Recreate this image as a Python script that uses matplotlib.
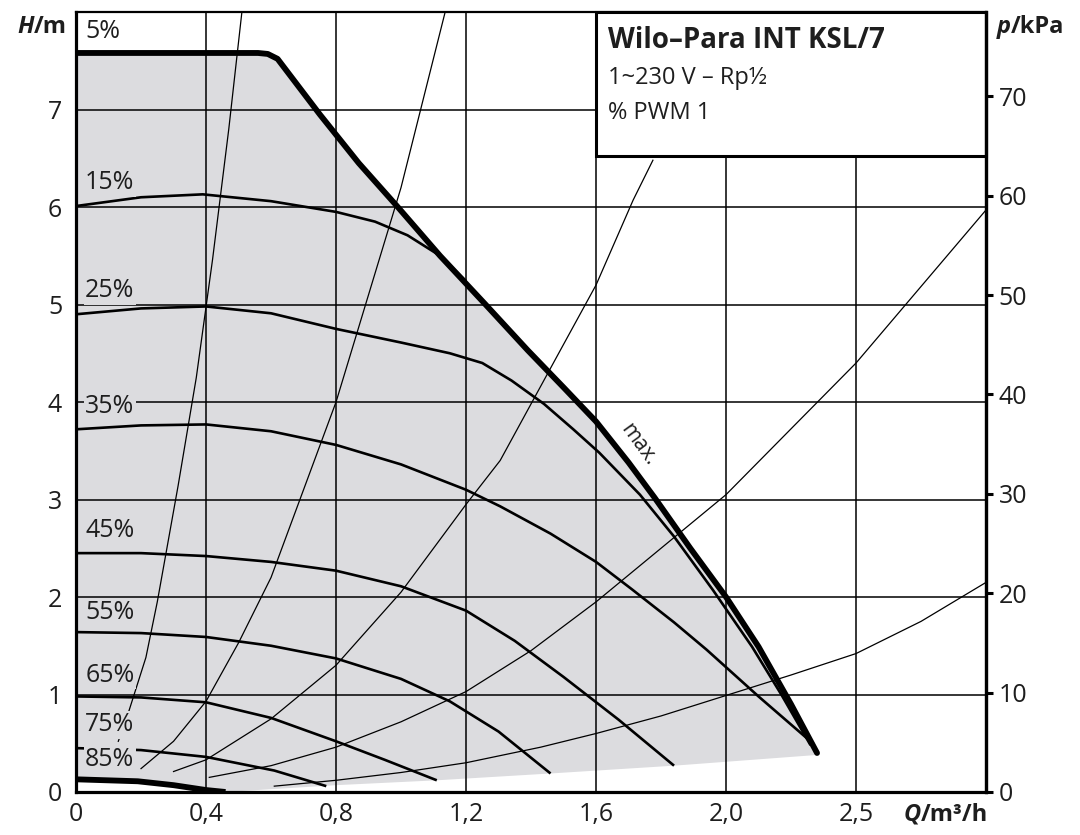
import matplotlib
matplotlib.use('Agg')
import matplotlib.pyplot as plt
from matplotlib.patches import Polygon, Rectangle
from matplotlib.offsetbox import TextArea, HPacker, AnnotationBbox

plt.rcParams['font.family'] = ['Open Sans', 'DejaVu Sans']

# Pump curves: flow Q [m3/h], head H [m]
max_q = [0.0, 0.56, 0.59, 0.62, 0.75, 0.87, 0.99, 1.12, 1.26, 1.39, 1.5, 1.6, 1.7, 1.78, 1.89, 2.0, 2.1, 2.2, 2.28]
max_h = [7.58, 7.58, 7.57, 7.52, 6.95, 6.45, 6.0, 5.5, 5.0, 4.53, 4.15, 3.8, 3.38, 3.02, 2.5, 2.0, 1.49, 0.9, 0.4]

p15_q = [0.0, 0.2, 0.39, 0.6, 0.8, 0.92, 1.02, 1.12, 1.2]
p15_h = [6.01, 6.10, 6.13, 6.06, 5.95, 5.85, 5.71, 5.50, 5.24]

p25_q = [0.0, 0.2, 0.4, 0.6, 0.8, 1.0, 1.15, 1.25, 1.34, 1.44, 1.53, 1.61, 1.735, 1.84, 1.96, 2.08, 2.17, 2.26]
p25_h = [4.90, 4.96, 4.98, 4.91, 4.75, 4.61, 4.50, 4.40, 4.22, 3.98, 3.72, 3.48, 3.05, 2.62, 2.07, 1.49, 1.00, 0.48]

p35_q = [0.0, 0.2, 0.4, 0.6, 0.8, 1.0, 1.2, 1.305, 1.46, 1.6, 1.71, 1.84, 1.94, 2.1, 2.27]
p35_h = [3.72, 3.76, 3.77, 3.70, 3.56, 3.36, 3.10, 2.93, 2.65, 2.36, 2.08, 1.74, 1.46, 0.98, 0.49]

p45_q = [0.0, 0.2, 0.4, 0.6, 0.8, 1.0, 1.2, 1.35, 1.5, 1.67, 1.84]
p45_h = [2.45, 2.45, 2.42, 2.36, 2.27, 2.11, 1.86, 1.55, 1.18, 0.74, 0.27]

p55_q = [0.0, 0.2, 0.4, 0.6, 0.8, 1.0, 1.15, 1.3, 1.46]
p55_h = [1.64, 1.63, 1.59, 1.50, 1.37, 1.16, 0.93, 0.62, 0.19]

p65_q = [0.0, 0.2, 0.4, 0.6, 0.8, 0.95, 1.11]
p65_h = [0.98, 0.97, 0.92, 0.76, 0.52, 0.33, 0.12]

p75_q = [0.0, 0.2, 0.4, 0.61, 0.77]
p75_h = [0.45, 0.43, 0.36, 0.22, 0.06]

p85_q = [0.0, 0.19, 0.3, 0.4, 0.46]
p85_h = [0.13, 0.11, 0.07, 0.02, 0.0]

# lower edge of the grey working range
edge_q = [0.46, 0.8, 1.11, 1.46, 1.84, 2.28]
edge_h = [0.0, 0.07, 0.12, 0.19, 0.27, 0.38]

# system curves (thin lines)
sys_a_q = [0.13, 0.155, 0.215, 0.25, 0.314, 0.37, 0.42, 0.47, 0.51]
sys_a_h = [0.52, 0.75, 1.38, 1.95, 3.14, 4.25, 5.46, 6.80, 7.99]
sys_b_q = [0.2, 0.3, 0.4, 0.5, 0.6, 0.8, 1.0, 1.135]
sys_b_h = [0.24, 0.52, 0.93, 1.53, 2.20, 4.00, 6.20, 7.99]
sys_c_q = [0.30, 0.4, 0.6, 0.8, 1.0, 1.2, 1.305, 1.49, 1.6, 1.714, 1.775]
sys_c_h = [0.21, 0.33, 0.75, 1.30, 2.05, 2.95, 3.40, 4.53, 5.20, 6.07, 6.48]
sys_d_q = [0.41, 0.6, 0.8, 1.0, 1.2, 1.4, 1.6, 2.0, 2.4, 2.8]
sys_d_h = [0.15, 0.27, 0.46, 0.72, 1.03, 1.45, 1.95, 3.05, 4.40, 5.97]
sys_e_q = [0.61, 0.8, 1.0, 1.2, 1.43, 1.6, 1.8, 2.0, 2.2, 2.4, 2.6, 2.8]
sys_e_h = [0.06, 0.12, 0.20, 0.30, 0.46, 0.60, 0.78, 0.99, 1.20, 1.42, 1.75, 2.15]

speed_labels = ['5%', '15%', '25%', '35%', '45%', '55%', '65%', '75%', '85%']
x_ticks = [0, 0.4, 0.8, 1.2, 1.6, 2.0, 2.4]
x_ticklabels = ['0', '0,4', '0,8', '1,2', '1,6', '2,0', '2,5']
h_ticks = [0, 1, 2, 3, 4, 5, 6, 7]
p_ticks = [0, 10, 20, 30, 40, 50, 60, 70]

RHO_G = 9.81
GREY = '#dcdcdf'
INK = '#1e1e1e'

fig = plt.figure(figsize=(10.8, 8.35), dpi=100)
ax = fig.add_axes([0.0704, 0.0515, 0.8426, 0.9341])
ax.set_xlim(0, 2.8)
ax.set_ylim(0, 8)

# grey working range
outline = list(zip(max_q, max_h)) + list(zip(edge_q, edge_h))[::-1] + list(zip(p85_q, p85_h))[::-1]
ax.add_patch(Polygon(outline, closed=True, facecolor=GREY, edgecolor='none', zorder=1))

ax.set_xticks(x_ticks)
ax.set_xticklabels(x_ticklabels)
ax.set_yticks(h_ticks)
ax.grid(True, color='black', lw=1.1, zorder=2)
ax.set_axisbelow(False)
ax.tick_params(axis='both', length=0, labelsize=18, colors=INK)
ax.tick_params(axis='y', pad=10)
ax.tick_params(axis='x', pad=7)

for q, h in [(sys_a_q, sys_a_h), (sys_b_q, sys_b_h), (sys_c_q, sys_c_h),
			 (sys_d_q, sys_d_h), (sys_e_q, sys_e_h)]:
	ax.plot(q, h, color='black', lw=0.9, zorder=3)

for q, h in [(p15_q, p15_h), (p25_q, p25_h), (p35_q, p35_h), (p45_q, p45_h),
			 (p55_q, p55_h), (p65_q, p65_h), (p75_q, p75_h)]:
	ax.plot(q, h, color='black', lw=1.9, zorder=4, solid_capstyle='butt', solid_joinstyle='round')

ax.plot(max_q, max_h, color='black', lw=4.2, zorder=5, solid_capstyle='round', solid_joinstyle='round')
ax.plot(p85_q, p85_h, color='black', lw=4.2, zorder=5, solid_capstyle='butt', solid_joinstyle='round')

# speed labels sit on a grey patch that hides the lines behind them
label_h = [7.80, 6.25, 5.14, 3.95, 2.68, 1.84, 1.20, 0.69, 0.33]
for text, y in zip(speed_labels, label_h):
	bg = 'white' if text == '5%' else GREY
	ax.text(0.028, y, text, fontsize=18, color=INK, va='center', ha='left', zorder=6,
			bbox=dict(facecolor=bg, edgecolor='none', pad=1.0))

ax.text(1.73, 3.56, 'max.', fontsize=15, color=INK, rotation=-54,
		ha='center', va='center', zorder=6)

# info box
ax.add_patch(Rectangle((1.6, 6.52), 1.2, 1.48, facecolor='white', edgecolor='black',
					   lw=2.2, zorder=10, clip_on=False))
ax.text(1.637, 7.71, 'Wilo–Para INT KSL/7', fontsize=20, fontweight='bold', color=INK,
		va='center', zorder=11)
ax.text(1.637, 7.32, '1~230 V – Rp½', fontsize=17, color=INK, va='center', zorder=11)
ax.text(1.637, 6.96, '% PWM 1', fontsize=17, color=INK, va='center', zorder=11)

for side in ['left', 'bottom', 'right']:
	ax.spines[side].set_linewidth(2.3)
ax.spines['top'].set_linewidth(1.6)
for s in ax.spines.values():
	s.set_zorder(12)

# pressure axis on the right
ax2 = ax.twinx()
ax2.set_ylim(0, 8 * RHO_G)
ax2.set_yticks(p_ticks)
ax2.tick_params(axis='y', direction='out', length=5, width=2.2, pad=4, labelsize=18,
				labelcolor=INK, color='black')
ax2.spines['right'].set_linewidth(2.3)
for side in ['left', 'bottom', 'top']:
	ax2.spines[side].set_visible(False)

def axis_label(sym, unit, xy, align):
	parts = [TextArea(sym, textprops=dict(style='italic', weight='bold', size=17, color=INK)),
			 TextArea(unit, textprops=dict(weight='bold', size=17, color=INK))]
	box = HPacker(children=parts, align='baseline', pad=0, sep=0)
	fig.add_artist(AnnotationBbox(box, xy, xycoords='figure pixels', frameon=False,
								  box_alignment=align, pad=0))

axis_label('H', '/m', (67, 808), (1, 0.5))
axis_label('p', '/kPa', (997, 808), (0, 0.5))
axis_label('Q', '/m³/h', (988, 20), (1, 0.5))

plt.savefig('out.png', dpi=100)
